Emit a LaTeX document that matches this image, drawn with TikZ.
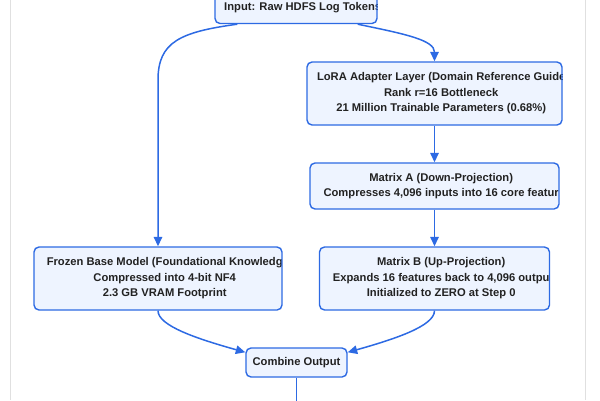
\documentclass[tikz,border=0pt]{standalone}
\usepackage{fontspec}
\setmainfont{Liberation Sans}
\usepackage{xcolor}
\usetikzlibrary{arrows.meta, positioning}

\definecolor{edgeblue}{HTML}{2D6AE3}
\definecolor{boxfill}{HTML}{EEF4FF}
\definecolor{textgray}{HTML}{222222}

\begin{document}
\begin{tikzpicture}[
  x=1pt, y=-1pt,
  box/.style={draw=edgeblue, fill=boxfill, line width=1.4pt, rounded corners=5pt, inner sep=0pt},
  lbl/.style={font=\bfseries\fontsize{11.2}{15.5}\selectfont, text=textgray, align=center, inner sep=0pt},
  cbox/.style={box, path picture={\node[lbl, anchor=west] at ([xshift=6pt]path picture bounding box.west) {#1};}},
  link/.style={draw=edgeblue, line width=1.5pt, -{Triangle[length=9.5pt, width=8.5pt]}},
  frame/.style={draw=black!12, line width=0.8pt}
]
  \useasboundingbox (0,0) rectangle (600,400);

  % Side frame lines
  \draw[frame] (10.5,0) -- (10.5,400);
  \draw[frame] (585.5,0) -- (585.5,400);

  % Boxes
  \node[cbox={{Input: Raw HDFS Log Tokens}}, minimum width=162pt, minimum height=31pt] (input) at (296,8) {};
  \node[cbox={{LoRA Adapter Layer (Domain Reference Guide\\Rank r=16 Bottleneck\\21 Million Trainable Parameters (0.68\%)}},
    minimum width=255pt, minimum height=63pt] (lora) at (434.5,93.5) {};
  \node[cbox={{Matrix A (Down-Projection)\\Compresses 4,096 inputs into 16 core featur}},
    minimum width=249pt, minimum height=46pt] (matA) at (434.5,186) {};
  \node[cbox={{Frozen Base Model (Foundational Knowledg\\Compressed into 4-bit NF4\\2.3 GB VRAM Footprint}},
    minimum width=248pt, minimum height=63pt] (frozen) at (158,278.5) {};
  \node[cbox={{Matrix B (Up-Projection)\\Expands 16 features back to 4,096 outpu\\Initialized to ZERO at Step 0}},
    minimum width=230pt, minimum height=63pt] (matB) at (434.5,278.5) {};
  \node[box, lbl, minimum width=101pt, minimum height=29pt] (combine) at (296.5,362.5) {Combine Output};
  \coordinate (exit) at (296.5,402);

  % Connectors
  \draw[link] ([xshift=23pt]input.south west) .. controls (180,32) and (158,42) .. (158,80) -- (frozen.north);
  \draw[link] ([xshift=-20pt]input.south east) .. controls (405,34) and (434.5,40) .. (lora.north);
  \draw[link] (lora.south) -- (matA.north);
  \draw[link] (matA.south) -- (matB.north);
  \draw[link] (frozen.south) .. controls (158,326) and (198,339) .. ([yshift=-5pt]combine.north west);
  \draw[link] (matB.south) .. controls (434.5,326) and (395,339) .. ([yshift=-5pt]combine.north east);
  \draw[link, -] (combine.south) -- (exit);
\end{tikzpicture}
\end{document}
